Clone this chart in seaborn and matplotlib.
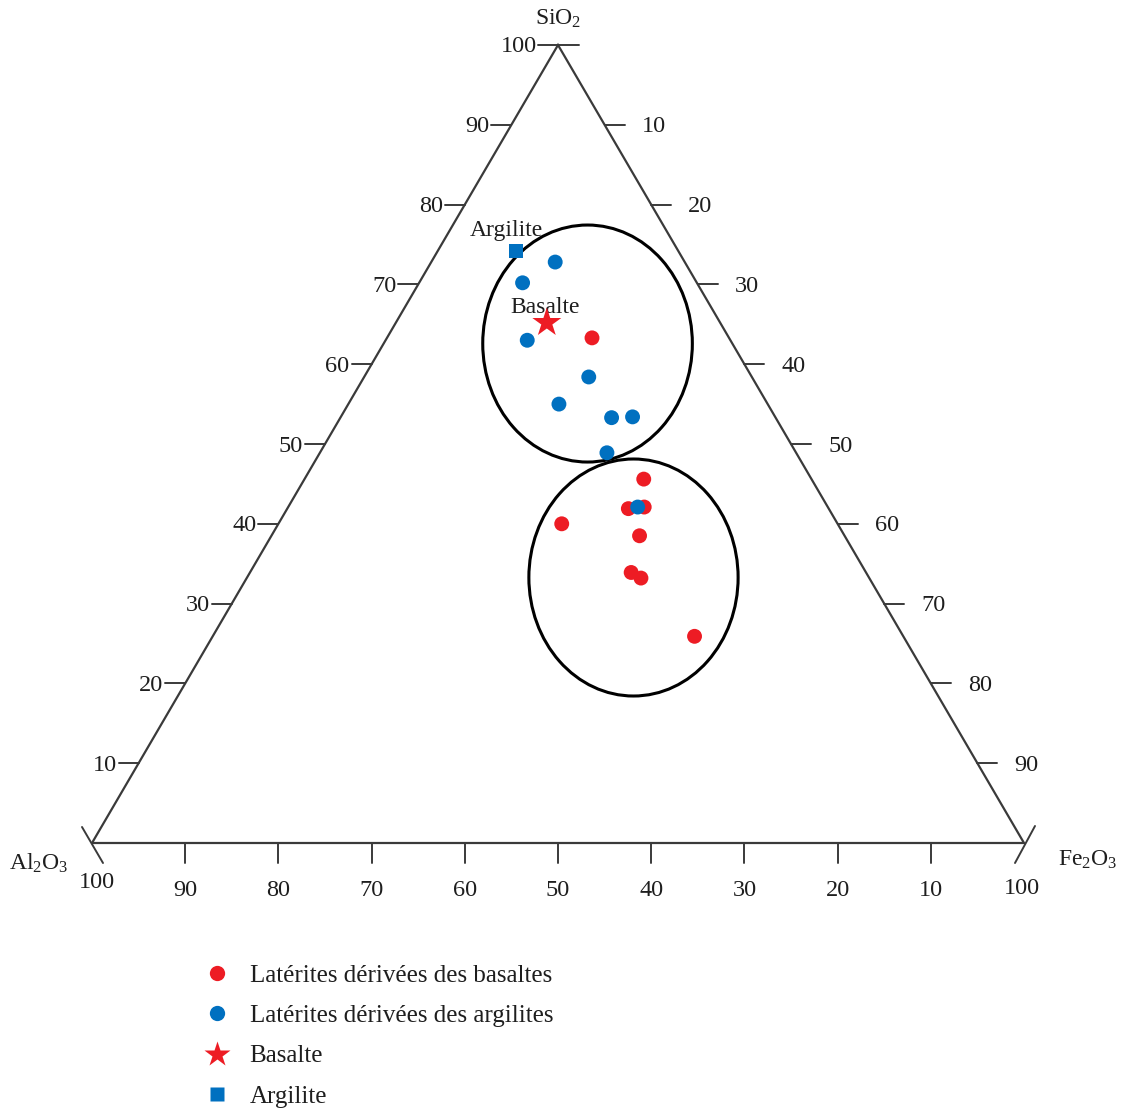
import matplotlib
matplotlib.use("Agg")
import matplotlib.pyplot as plt
from matplotlib.patches import Ellipse
from matplotlib.lines import Line2D
import numpy as np
import pandas as pd
import seaborn as sns

# Compositions (wt %) : SiO2, Al2O3, Fe2O3
basalt_lat_sio2 = [63.3, 45.6, 41.9, 42.1, 40.0, 38.5, 33.9, 33.2, 25.9]
basalt_lat_al2o3 = [14.7, 18.0, 21.5, 19.7, 29.6, 22.0, 25.2, 24.5, 22.4]
basalt_lat_fe2o3 = [22.0, 36.4, 36.6, 38.2, 30.4, 39.5, 40.9, 42.3, 51.7]

argil_lat_sio2 = [72.8, 70.2, 63.0, 58.4, 55.0, 53.3, 53.4, 48.9, 42.1]
argil_lat_al2o3 = [13.9, 18.7, 21.8, 17.5, 22.4, 17.6, 15.3, 20.3, 20.4]
argil_lat_fe2o3 = [13.3, 11.1, 15.2, 24.1, 22.6, 29.1, 31.3, 30.8, 37.5]

basalt_sio2, basalt_al2o3, basalt_fe2o3 = [65.2], [18.6], [16.2]
argilite_sio2, argilite_al2o3, argilite_fe2o3 = [74.2], [17.4], [8.4]

tick_values = [10, 20, 30, 40, 50, 60, 70, 80, 90]
legend_labels = ["Latérites dérivées des basaltes",
                 "Latérites dérivées des argilites",
                 "Basalte", "Argilite"]

RED = "#ED1C24"
BLUE = "#0070C0"
EDGE = "#3a3a3a"
TXT = "#1e1e1e"

sns.set_theme(style="white")
plt.rcParams["font.family"] = ["Liberation Serif", "DejaVu Serif"]
plt.rcParams["mathtext.fontset"] = "custom"
plt.rcParams["mathtext.rm"] = "Liberation Serif"
plt.rcParams["mathtext.it"] = "Liberation Serif:italic"


def to_xy(sio2, fe2o3):
    """Ternary -> cartesian: x along the base, y = SiO2 height."""
    s = np.asarray(sio2, dtype=float)
    f = np.asarray(fe2o3, dtype=float)
    return f + s / 2.0, s


frames = []
for name, s, a, f in [
    ("bl", basalt_lat_sio2, basalt_lat_al2o3, basalt_lat_fe2o3),
    ("al", argil_lat_sio2, argil_lat_al2o3, argil_lat_fe2o3),
    ("b", basalt_sio2, basalt_al2o3, basalt_fe2o3),
    ("a", argilite_sio2, argilite_al2o3, argilite_fe2o3),
]:
    x, y = to_xy(s, f)
    frames.append(pd.DataFrame({"x": x, "y": y, "grp": name}))
df = pd.concat(frames, ignore_index=True)

fig = plt.figure(figsize=(11.26, 11.12), dpi=100)
ax = fig.add_axes([0, 0, 1, 1])
# 100 % along the base spans 932 px, full SiO2 height spans 798 px
PX = 100 / 932.0
PY = 100 / 798.0
ax.set_xlim(-92 * PX, (1126 - 92) * PX)
ax.set_ylim(-(1112 - 843) * PY, 843 * PY)
ax.axis("off")

# triangle frame
tri_x = [0, 100, 50, 0]
tri_y = [0, 0, 100, 0]
ax.plot(tri_x, tri_y, color=EDGE, lw=1.6, solid_joinstyle="miter", zorder=1)

TL = 20  # tick length in px
fs_tick = 17.5
DY = -2 * PY  # small baseline nudge for tick labels
for v in tick_values:
    # left edge (SiO2)
    xl, yl = to_xy(v, 0)
    ax.plot([xl - TL * PX, xl], [yl, yl], color=EDGE, lw=1.4)
    ax.text(xl - (TL + 2) * PX, yl + DY, str(v), ha="right", va="center",
            fontsize=fs_tick, color=TXT)
    # right edge (Fe2O3)
    xr, yr = to_xy(100 - v, v)
    ax.plot([xr, xr + TL * PX], [yr, yr], color=EDGE, lw=1.4)
    ax.text(xr + (TL + 17) * PX, yr + DY, str(v), ha="left", va="center",
            fontsize=fs_tick, color=TXT)
    # base (Al2O3)
    xb = 100 - v
    ax.plot([xb, xb], [0, -TL * PY], color=EDGE, lw=1.4)
    ax.text(xb, -48 * PY, str(v), ha="center", va="center",
            fontsize=fs_tick, color=TXT)

# vertex ticks
ax.plot([50 - 20 * PX, 50 + 21 * PX], [100, 100], color=EDGE, lw=1.4)
ax.plot([-10 * PX, 11 * PX], [16 * PY, -20 * PY], color=EDGE, lw=1.4)
ax.plot([100 + 11 * PX, 100 - 9 * PX], [17 * PY, -20 * PY], color=EDGE, lw=1.4)
ax.text(50 - 21 * PX, 100 + DY, "100", ha="right", va="center",
        fontsize=fs_tick, color=TXT)
ax.text(5 * PX, -39 * PY, "100", ha="center", va="center",
        fontsize=fs_tick, color=TXT)
ax.text(100 - 2 * PX, -46 * PY, "100", ha="center", va="center",
        fontsize=fs_tick, color=TXT)

# component labels
ax.text(50, 100 + 26 * PY, "SiO$_2$", ha="center", va="center",
        fontsize=17, color=TXT)
ax.text(-53 * PX, -20 * PY, "Al$_2$O$_3$", ha="center", va="center",
        fontsize=17, color=TXT)
ax.text(100 + 64 * PX, -17 * PY, "Fe$_2$O$_3$", ha="center", va="center",
        fontsize=17, color=TXT)

# grouping ellipses
ax.add_patch(Ellipse((53.17, 62.59), 22.49, 29.7, fill=False,
                     ec="black", lw=2.2, zorder=2))
ax.add_patch(Ellipse((58.10, 33.27), 22.45, 29.7, fill=False,
                     ec="black", lw=2.2, zorder=2))

# samples
sns.scatterplot(data=df[df.grp == "bl"], x="x", y="y", color=RED,
                s=115, edgecolor="none", ax=ax, legend=False, zorder=4)
sns.scatterplot(data=df[df.grp == "al"], x="x", y="y", color=BLUE,
                s=115, edgecolor="none", ax=ax, legend=False, zorder=5)
sns.scatterplot(data=df[df.grp == "b"], x="x", y="y", color=RED, marker="*",
                s=480, edgecolor="none", ax=ax, legend=False, zorder=4)
sns.scatterplot(data=df[df.grp == "a"], x="x", y="y", color=BLUE, marker="s",
                s=95, edgecolor="none", ax=ax, legend=False, zorder=4)

bx, by = to_xy(basalt_sio2[0], basalt_fe2o3[0])
ax.text(float(bx) - 2 * PX, float(by) + 15 * PY, "Basalte", ha="center",
        va="center", fontsize=17, color=TXT)
gx, gy = to_xy(argilite_sio2[0], argilite_fe2o3[0])
ax.text(float(gx) - 10 * PX, float(gy) + 20 * PY, "Argilite", ha="center",
        va="center", fontsize=17, color=TXT)

handles = [
    Line2D([], [], ls="none", marker="o", ms=11, color=RED, mec="none"),
    Line2D([], [], ls="none", marker="o", ms=11, color=BLUE, mec="none"),
    Line2D([], [], ls="none", marker="*", ms=19, color=RED, mec="none"),
    Line2D([], [], ls="none", marker="s", ms=10, color=BLUE, mec="none"),
]
fig.legend(handles, legend_labels, loc="upper left",
           bbox_to_anchor=(204.0 / 1126, 1 - 964 / 1112),
           frameon=False, fontsize=18, borderpad=0, borderaxespad=0,
           handlelength=1.0, handletextpad=0.82, labelspacing=0.72,
           labelcolor=TXT)

fig.savefig("out.png", dpi=100)
